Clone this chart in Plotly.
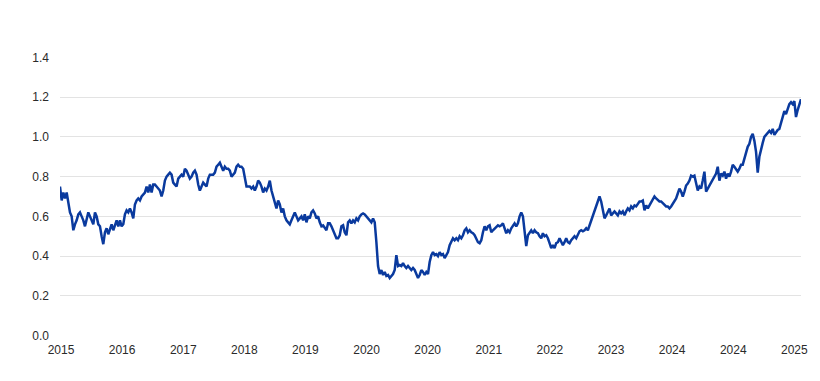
import numpy as np
import plotly.graph_objects as go

seg_2015_2017 = [0.75, 0.68, 0.72, 0.69, 0.72, 0.67, 0.62, 0.60, 0.53, 0.56, 0.58, 0.61, 0.62, 0.60, 0.58,
                 0.55, 0.59, 0.62, 0.60, 0.58, 0.56, 0.62, 0.60, 0.56, 0.55, 0.50, 0.46, 0.52, 0.54, 0.51,
                 0.54, 0.56, 0.53, 0.56, 0.58, 0.55, 0.58, 0.55, 0.56, 0.61, 0.63, 0.62, 0.64, 0.62, 0.59,
                 0.66, 0.68, 0.69, 0.68, 0.70, 0.71, 0.72, 0.75, 0.72, 0.76, 0.72, 0.76, 0.76, 0.75, 0.74,
                 0.73, 0.70, 0.73, 0.78, 0.80, 0.81, 0.82, 0.81, 0.77, 0.76, 0.75, 0.79, 0.80]
seg_2017_2019 = [0.81, 0.80, 0.84, 0.83, 0.81, 0.79, 0.80, 0.82, 0.83, 0.81,
                 0.76, 0.73, 0.75, 0.77, 0.76, 0.75, 0.79, 0.81, 0.81, 0.81,
                 0.82, 0.85, 0.86, 0.87, 0.85, 0.83, 0.85, 0.84, 0.84, 0.83,
                 0.80, 0.81, 0.82, 0.85, 0.86, 0.85, 0.85, 0.84, 0.80, 0.75,
                 0.75, 0.75, 0.74, 0.75, 0.73, 0.75, 0.78, 0.77, 0.75, 0.72,
                 0.74, 0.73, 0.75, 0.78, 0.73, 0.70, 0.67, 0.64, 0.68, 0.66,
                 0.62, 0.64, 0.60, 0.58, 0.57, 0.56, 0.58, 0.60, 0.62, 0.60,
                 0.58, 0.59]
seg_2019_2020 = [0.60, 0.58, 0.61, 0.57, 0.60, 0.59, 0.62, 0.63, 0.615, 0.59, 0.60, 0.57, 0.55, 0.555, 0.54,
                 0.53, 0.565, 0.565, 0.55, 0.53, 0.515, 0.49, 0.49, 0.505, 0.55, 0.555, 0.52, 0.505, 0.57,
                 0.58, 0.565, 0.58, 0.57, 0.59, 0.58, 0.60, 0.61, 0.615, 0.61, 0.60, 0.59, 0.58, 0.57, 0.59,
                 0.57, 0.47, 0.35, 0.31, 0.33, 0.305, 0.32, 0.30, 0.305, 0.29, 0.30, 0.31, 0.33, 0.405,
                 0.35, 0.355, 0.35, 0.365, 0.35, 0.34, 0.35, 0.34, 0.33, 0.34, 0.33, 0.31, 0.29, 0.305]
seg_2020_2022 = [0.33, 0.32, 0.305, 0.32, 0.31, 0.37, 0.405, 0.42, 0.405, 0.41, 0.40, 0.42, 0.405, 0.41,
                 0.39, 0.405, 0.42, 0.455, 0.47, 0.49, 0.48, 0.49, 0.48, 0.50, 0.49, 0.505, 0.53, 0.54,
                 0.52, 0.53, 0.52, 0.515, 0.505, 0.49, 0.47, 0.465, 0.48, 0.52, 0.55, 0.53, 0.55, 0.555,
                 0.52, 0.53, 0.54, 0.55, 0.555, 0.55, 0.555, 0.565, 0.54, 0.515, 0.53, 0.52, 0.54, 0.55,
                 0.565, 0.55, 0.565, 0.60, 0.62, 0.60, 0.53, 0.45, 0.505, 0.52, 0.53, 0.515, 0.53, 0.52,
                 0.515, 0.50]
seg_2022_2024 = [0.49, 0.515, 0.50, 0.505, 0.49, 0.465, 0.44, 0.455, 0.44, 0.465, 0.47, 0.49, 0.47, 0.455,
                 0.47, 0.49, 0.47, 0.465, 0.48, 0.49, 0.50, 0.49, 0.505, 0.525, 0.53, 0.525, 0.53, 0.54,
                 0.53, 0.555, 0.575, 0.605, 0.63, 0.65, 0.675, 0.70, 0.675, 0.625, 0.59, 0.605, 0.625,
                 0.64, 0.605, 0.615, 0.625, 0.615, 0.605, 0.625, 0.615, 0.625, 0.605, 0.625, 0.64, 0.63,
                 0.65, 0.64, 0.655, 0.65, 0.665, 0.675, 0.675, 0.68, 0.63, 0.655, 0.64, 0.655, 0.675,
                 0.69, 0.70, 0.69, 0.68, 0.675]
seg_2024_2025 = [0.675, 0.665, 0.655, 0.65, 0.65, 0.64, 0.65, 0.665, 0.68, 0.69, 0.715, 0.74, 0.725, 0.70,
                 0.725, 0.755, 0.765, 0.78, 0.805, 0.80, 0.805, 0.765, 0.73, 0.75, 0.74, 0.78, 0.825, 0.725,
                 0.74, 0.755, 0.765, 0.78, 0.80, 0.815, 0.85, 0.78, 0.815, 0.805, 0.825, 0.79, 0.815, 0.80,
                 0.825, 0.86, 0.85, 0.84, 0.825, 0.84, 0.86, 0.86, 0.89, 0.925, 0.95, 0.965, 1.00, 1.015,
                 0.98, 0.925, 0.82, 0.90, 0.94, 0.97, 1.00, 1.01, 1.02, 1.03, 1.02, 1.04, 1.01, 1.025,
                 1.035, 1.04, 1.075, 1.105, 1.13, 1.115, 1.145, 1.165, 1.175, 1.165, 1.18, 1.10, 1.135,
                 1.165, 1.19]

values = seg_2015_2017 + seg_2017_2019 + seg_2019_2020 + seg_2020_2022 + seg_2022_2024 + seg_2024_2025

tick_labels = ["2015", "2016", "2017", "2018", "2019", "2020", "2020",
               "2021", "2022", "2023", "2024", "2024", "2025"]
y_ticks = [0.0, 0.2, 0.4, 0.6, 0.8, 1.0, 1.2, 1.4]

n = len(values)
x = list(range(n))
tickvals = np.linspace(0.6, (n - 1) * 0.991, len(tick_labels))

fig = go.Figure()
fig.add_trace(go.Scatter(
    x=x, y=values, mode="lines",
    line=dict(color="#0a3a9e", width=2.5),
    hoverinfo="skip", showlegend=False,
))

font = dict(family="Arial, Liberation Sans, sans-serif", size=12, color="#2a2a2a")
fig.update_layout(
    width=820, height=381,
    margin=dict(l=60, r=19, t=57, b=45),
    paper_bgcolor="white", plot_bgcolor="white",
    font=font,
    xaxis=dict(
        range=[0, n - 1], tickmode="array", tickvals=tickvals, ticktext=tick_labels,
        showgrid=False, zeroline=False, showline=False, ticks="", tickfont=font,
        ticklabelstandoff=5,
    ),
    yaxis=dict(
        range=[-0.002, 1.402], tickmode="array", tickvals=y_ticks,
        ticktext=[f"{v:.1f}" for v in y_ticks],
        showgrid=True, gridcolor="#e3e3e3", gridwidth=1,
        zeroline=False, showline=False, ticks="", tickfont=font, ticklabelstandoff=10,
    ),
)

fig.write_html("out.html")
